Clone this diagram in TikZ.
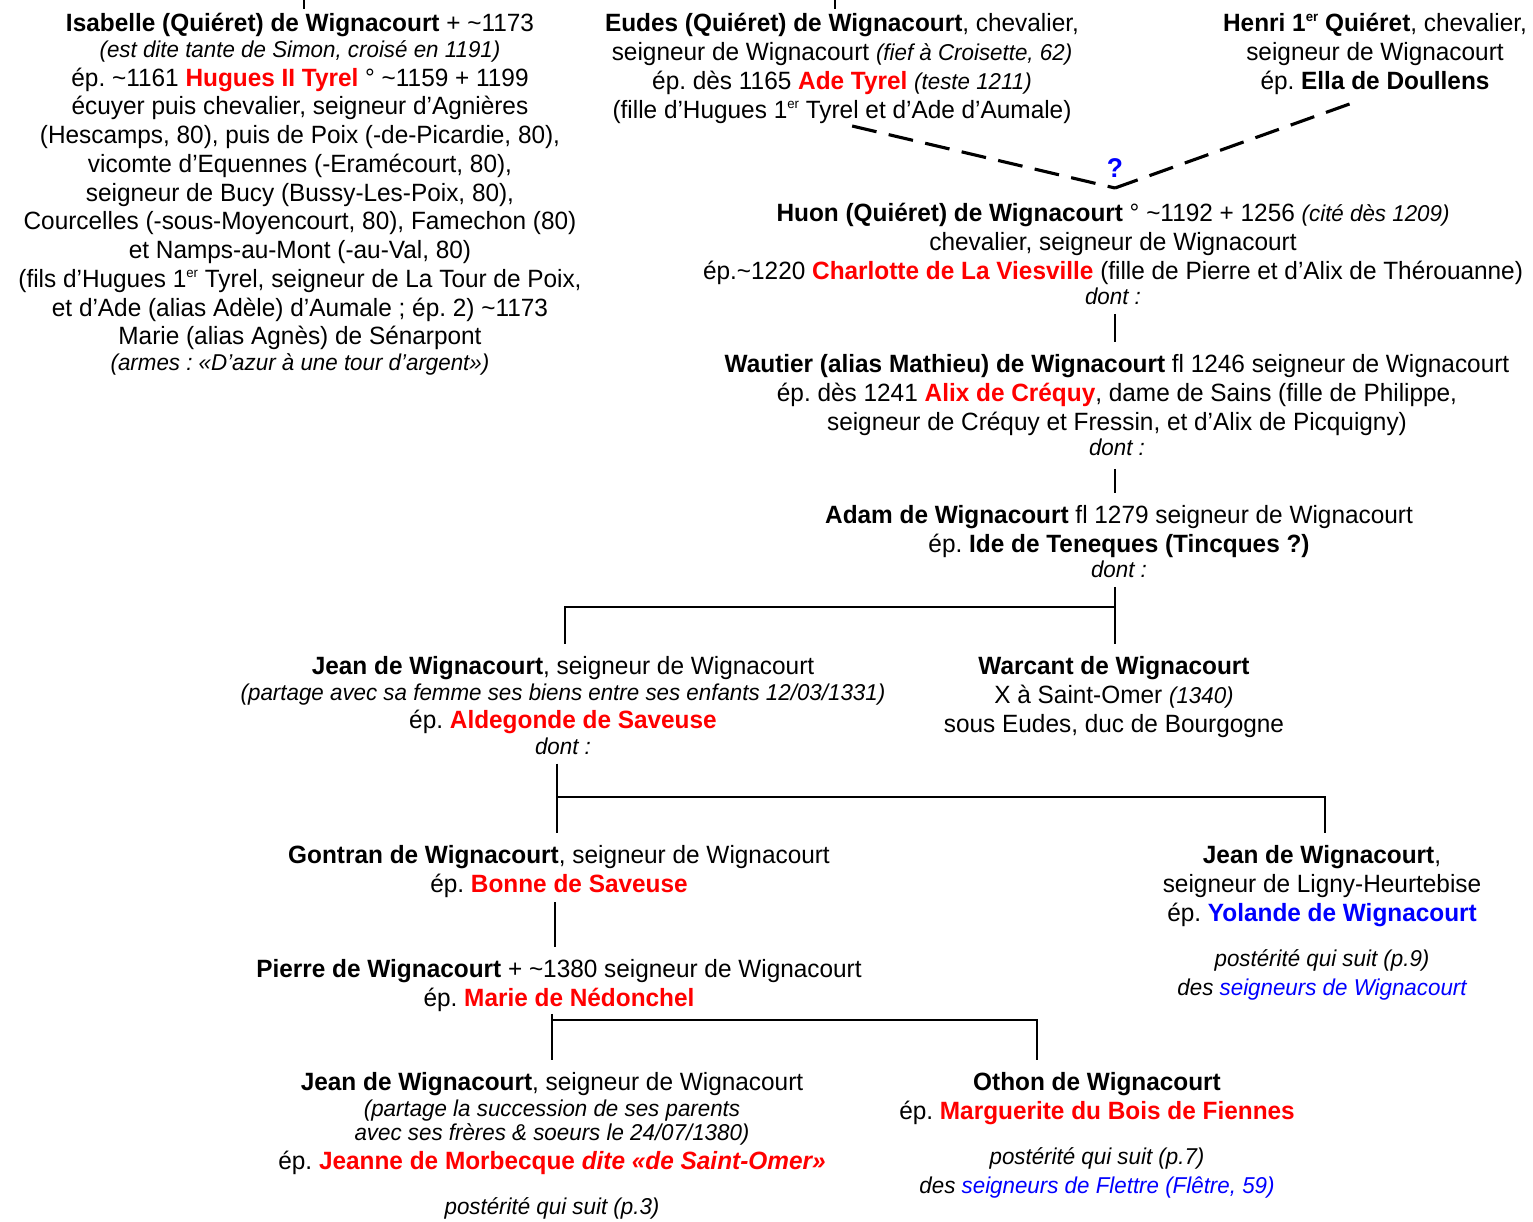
\documentclass[tikz,border=0pt]{standalone}
\usepackage{fontspec}
\setmainfont{Liberation Sans}[FakeStretch=0.975]
\usetikzlibrary{positioning}
\frenchspacing

\newcommand{\spouse}[1]{{\bfseries\color{red}#1}}
\newcommand{\remark}[1]{{\itshape\fontsize{11}{13}\selectfont #1}}
\newcommand{\er}{\raisebox{0.75ex}{\fontsize{6.5}{7}\selectfont er}}

\begin{document}
\begin{tikzpicture}[
  x=0.48pt, y=-0.48pt,
  pers/.style={align=center, inner sep=0pt, anchor=north,
               font=\fontsize{12}{13.8}\selectfont},
  link/.style={line width=1.2pt},
  guess/.style={line width=1.5pt, dash pattern=on 12pt off 6pt},
  qmark/.style={font=\fontsize{13}{14}\selectfont\bfseries, text=blue, inner sep=0pt},
]
\useasboundingbox (0,0) rectangle (1533,1221);

% first generation
\node[pers] (isabelle) at (300,13)
  {\textbf{Isabelle (Quiéret) de Wignacourt} + \textasciitilde1173\\[-1.5pt]
   \remark{(est dite tante de Simon, croisé en 1191)}\\
   ép. \textasciitilde1161 \spouse{Hugues II Tyrel} ° \textasciitilde1159 + 1199\\
   écuyer puis chevalier, seigneur d’Agnières\\
   (Hescamps, 80), puis de Poix (-de-Picardie, 80),\\
   vicomte d’Equennes (-Eramécourt, 80),\\
   seigneur de Bucy (Bussy-Les-Poix, 80),\\
   Courcelles (-sous-Moyencourt, 80), Famechon (80)\\
   et Namps-au-Mont (-au-Val, 80)\\
   (fils d’Hugues 1\er{} Tyrel, seigneur de La Tour de Poix,\\
   et d’Ade (alias Adèle) d’Aumale ; ép. 2) \textasciitilde1173\\
   Marie (alias Agnès) de Sénarpont\\[-1.5pt]
   \remark{(armes : «D’azur à une tour d’argent»)}};
\node[pers] (eudes) at (842,13)
  {\textbf{Eudes (Quiéret) de Wignacourt}, chevalier,\\
   seigneur de Wignacourt \remark{(fief à Croisette, 62)}\\
   ép. dès 1165 \spouse{Ade Tyrel} \remark{(teste 1211)}\\
   (fille d’Hugues 1\er{} Tyrel et d’Ade d’Aumale)};
\node[pers] (henri) at (1375,13)
  {\textbf{Henri 1\er{}  Quiéret}, chevalier,\\
   seigneur de Wignacourt\\
   ép. \textbf{Ella de Doullens}};

% cut-off links from the previous page
\coordinate (upisa) at (304,0);
\coordinate (upeud) at (835,0);
\draw[link, shorten >=2pt] (upisa) -- (upisa |- isabelle.north);
\draw[link, shorten >=2pt] (upeud) -- (upeud |- eudes.north);

% uncertain filiation
\coordinate (meet) at (1115,188);
\draw[guess, shorten <=5pt] (eudes.south) -- (meet);
\draw[guess, shorten <=13pt] (henri.south) -- (meet);
\node[qmark, above left=5pt and -4pt of meet] (doubt) {?};

% main line
\node[pers] (huon) at (1113,203)
  {\textbf{Huon (Quiéret) de Wignacourt}  ° \textasciitilde1192 + 1256 \remark{(cité dès 1209)}\\
   chevalier, seigneur de Wignacourt\\
   ép.\textasciitilde1220 \spouse{Charlotte de La Viesville} (fille de Pierre et d’Alix de Thérouanne)\\[-1.5pt]
   \remark{dont :}};
\node[pers] (wautier) at (1117,354)
  {\textbf{Wautier (alias Mathieu) de Wignacourt}  fl 1246 seigneur de Wignacourt\\
   ép. dès 1241 \spouse{Alix de Créquy}, dame de Sains (fille de Philippe,\\
   seigneur de Créquy et Fressin, et d’Alix de Picquigny)\\[-1.5pt]
   \remark{dont :}};
\node[pers] (adam) at (1119,505)
  {\textbf{Adam de Wignacourt}  fl 1279 seigneur de Wignacourt\\
   ép. \textbf{Ide de Teneques (Tincques ?)}\\[-1.5pt]
   \remark{dont :}};

\draw[link, shorten <=4pt, shorten >=6pt] (huon.south -| meet) -- (wautier.north -| meet);
\draw[link, shorten <=6pt, shorten >=6pt] (wautier.south -| meet) -- (adam.north -| meet);

% children of Adam
\node[pers] (jean) at (563,656)
  {\textbf{Jean de Wignacourt}, seigneur de Wignacourt\\[-1.5pt]
   \remark{(partage avec sa femme ses biens entre ses enfants 12/03/1331)}\\
   ép. \spouse{Aldegonde de Saveuse}\\[-1.5pt]
   \remark{dont :}};
\node[pers] (warcant) at (1114,656)
  {\textbf{Warcant de Wignacourt}\\
   X à Saint-Omer \remark{(1340)}\\
   sous Eudes, duc de Bourgogne};

\coordinate (barA) at (565,607);
\draw[link, shorten <=4pt, shorten >=6pt] (adam.south -| meet) -- (warcant.north -| meet);
\draw[link, shorten >=6pt] (barA -| meet) -- (barA) -- (barA |- jean.north);

% children of Jean
\node[pers] (gontran) at (559,845)
  {\textbf{Gontran de Wignacourt}, seigneur de Wignacourt\\
   ép. \spouse{Bonne de Saveuse}};
\node[pers] (ligny) at (1322,845)
  {\textbf{Jean de Wignacourt},\\
   seigneur de Ligny-Heurtebise\\
   ép. {\bfseries\color{blue}Yolande de Wignacourt}\\[8pt]
   \remark{postérité qui suit (p.9)}\\
   \remark{des {\color{blue}seigneurs de Wignacourt}}};

\coordinate (barB) at (557,797);
\coordinate (downB) at (1325,797);
\draw[link, shorten <=4pt, shorten >=6pt] (barB |- jean.south) -- (barB |- gontran.north);
\draw[link, shorten >=6pt] (barB) -- (downB) -- (downB |- ligny.north);

% Pierre
\node[pers] (pierre) at (559,959)
  {\textbf{Pierre de Wignacourt} + \textasciitilde1380 seigneur de Wignacourt\\
   ép. \spouse{Marie de Nédonchel}};
\coordinate (lineC) at (555,0);
\draw[link, shorten <=2pt, shorten >=6pt] (lineC |- gontran.south) -- (lineC |- pierre.north);

% children of Pierre
\node[pers] (jeanm) at (552,1072)
  {\textbf{Jean de Wignacourt},  seigneur de Wignacourt\\[-1.5pt]
   \remark{(partage la succession de ses parents}\\[-2pt]
   \remark{avec ses frères \& soeurs le 24/07/1380)}\\
   ép. \spouse{Jeanne de Morbecque \textit{dite «de Saint-Omer»}}\\[8pt]
   \remark{postérité qui suit (p.3)}};
\node[pers] (othon) at (1097,1072)
  {\textbf{Othon de Wignacourt}\\
   ép. \spouse{Marguerite du Bois de Fiennes}\\[8pt]
   \remark{postérité qui suit (p.7)}\\
   \remark{des {\color{blue}seigneurs de Flettre (Flêtre, 59)}}};

\coordinate (barD) at (552,1020);
\coordinate (downD) at (1037,1020);
\draw[link, shorten <=1pt, shorten >=6pt] (barD |- pierre.south) -- (barD |- jeanm.north);
\draw[link, shorten >=6pt] (barD) -- (downD) -- (downD |- othon.north);

\end{tikzpicture}
\end{document}
